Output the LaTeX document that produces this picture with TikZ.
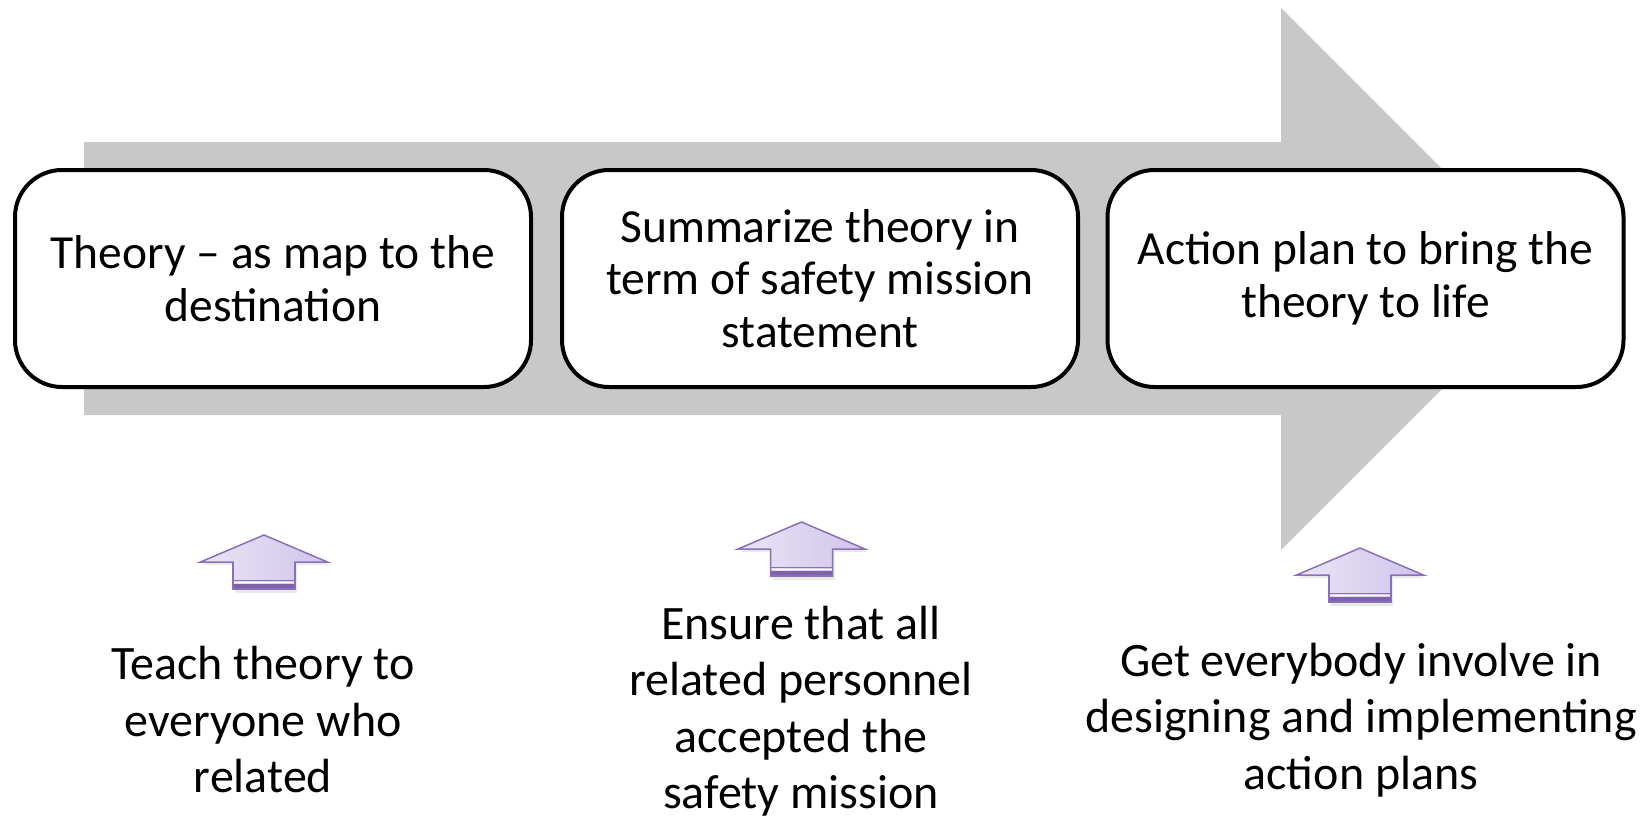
\documentclass[tikz,border=0pt]{standalone}
\usepackage{fontspec}
\setmainfont{Carlito}
\definecolor{arrowgray}{RGB}{200,200,200}
\definecolor{lavlight}{RGB}{234,229,246}
\definecolor{lavdark}{RGB}{208,196,234}
\definecolor{purpline}{RGB}{138,112,184}
\definecolor{purpband}{RGB}{126,99,168}
\tikzset{
  box/.style={draw=black, line width=4pt, fill=white, rounded corners=47pt,
    minimum width=516pt, minimum height=217pt, align=center, inner sep=0pt,
    font=\fontsize{47.5}{52.6}\selectfont},
  lbl/.style={align=center, inner sep=0pt, font=\fontsize{48}{56.5}\selectfont},
  uparrow/.pic={
    \fill[black!25, opacity=0.35] (2,3) -- (65.5,30) -- (33,30) -- (33,58) -- (-29,58) -- (-29,30) -- (-61.5,30) -- cycle;
    \shade[left color=lavlight, right color=lavdark, draw=purpline, line width=1.5pt, line join=miter]
      (0,0) -- (63.5,27) -- (31,27) -- (31,54) -- (-31,54) -- (-31,27) -- (-63.5,27) -- cycle;
    \fill[purpband] (-31,48.5) rectangle (31,54);
    \draw[purpline, line width=1pt] (-31,45.5) -- (31,45.5);
    \draw[white, line width=1.2pt] (-30,47.2) -- (30,47.2);
    \draw[purpline, line width=1.5pt] (-31,27) -- (-31,54) -- (31,54) -- (31,27);
  }
}
\begin{document}
\begin{tikzpicture}[x=1pt,y=-1pt]
\useasboundingbox (0,0) rectangle (1649,819);
\fill[arrowgray] (84,142) -- (1281,142) -- (1281,8) -- (1552,279) -- (1281,550) -- (1281,415) -- (84,415) -- cycle;
\node[box] (b1) at (273,278.5) {Theory – as map to the\\destination};
\node[box] (b2) at (820,278.5) {Summarize theory in\\term of safety mission\\statement};
\node[box] (b3) at (1365.5,278.5) {Action plan to bring the\\theory to life};
\pic at (264,535) {uparrow};
\pic at (801.5,522) {uparrow};
\pic at (1360,548) {uparrow};
\node[lbl] (t1) at (263,720) {Teach theory to\\everyone who\\related};
\node[lbl] (t2) at (801,711) {Ensure that all\\related personnel\\accepted the\\safety mission};
\node[lbl] (t3) at (1361,720) {Get everybody involve in\\designing and implementing\\action plans};
\end{tikzpicture}
\end{document}
